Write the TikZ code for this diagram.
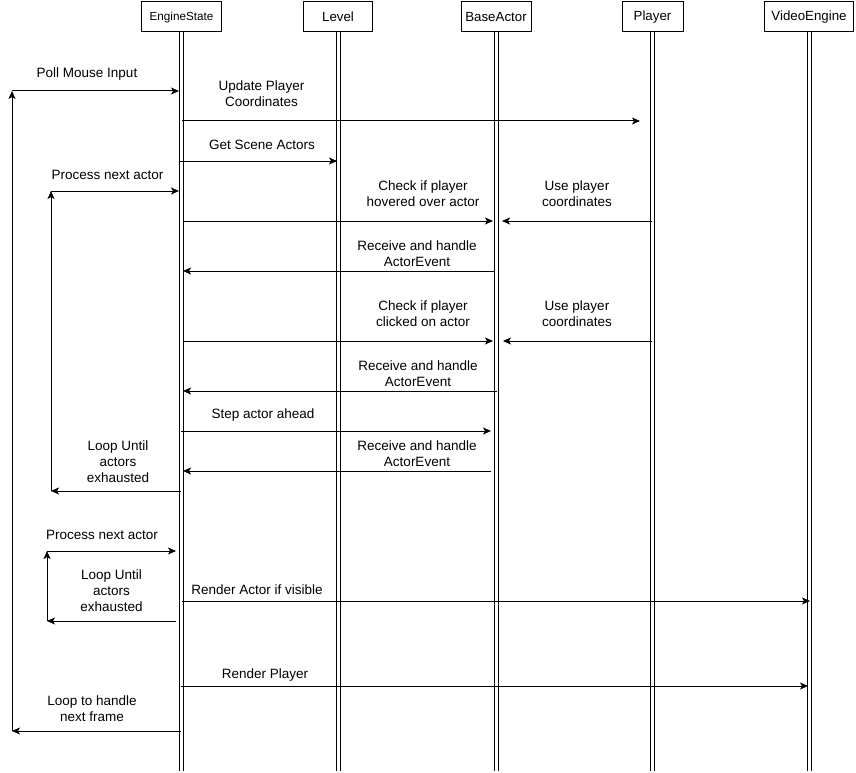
\documentclass[tikz,border=0pt]{standalone}
\usepackage{fontspec}
\setmainfont{Liberation Sans}
\usetikzlibrary{arrows.meta}
\begin{document}
\begin{tikzpicture}[x=1pt,y=-1pt,
  head/.style={draw,line width=1pt,minimum height=30pt,inner sep=0pt,
    font=\fontsize{13.3}{15}\selectfont},
  lifeline/.style={line width=1pt},
  msg/.style={line width=1pt,-{Stealth[length=8pt,width=7pt,inset=2pt]}},
  lbl/.style={align=center,inner sep=0pt,yshift=-1pt,font=\fontsize{13.5}{16}\selectfont}]
\useasboundingbox (0,0) rectangle (856,773);

% participants
\node[head,minimum width=80pt,font=\fontsize{11.7}{14}\selectfont] (es) at (181.5,17) {EngineState};
\node[head,minimum width=69pt] (lv) at (338,17) {Level};
\node[head,minimum width=70pt] (ba) at (496,17) {BaseActor};
\node[head,minimum width=61pt] (pl) at (652.5,17) {Player};
\node[head,minimum width=89pt] (ve) at (809,17) {VideoEngine};

% double lifelines
\foreach \p in {es,lv,ba,pl,ve}{
  \draw[lifeline] ([xshift=-2pt]\p.south) -- ++(0,738);
  \draw[lifeline] ([xshift=2pt]\p.south) -- ++(0,738);
}

% message end points
\coordinate (f0) at (12,91);   \coordinate (f1) at (179,91);
\coordinate (f2) at (12,731);  \coordinate (f3) at (181,731);
\coordinate (u0) at (182,121); \coordinate (u1) at (640,121);
\coordinate (g0) at (179,161); \coordinate (g1) at (337,161);
\coordinate (n0) at (51,191);  \coordinate (n1) at (179,191);
\coordinate (n2) at (51,491);  \coordinate (n3) at (181,491);
\coordinate (h0) at (183,221); \coordinate (h1) at (493,221);
\coordinate (h2) at (652,221); \coordinate (h3) at (502,221);
\coordinate (r0) at (494,271); \coordinate (r1) at (183,271);
\coordinate (c0) at (183,341); \coordinate (c1) at (493,341);
\coordinate (c2) at (652,341); \coordinate (c3) at (503,341);
\coordinate (s0) at (497,391); \coordinate (s1) at (183,391);
\coordinate (t0) at (181,431); \coordinate (t1) at (491,431);
\coordinate (e0) at (491,471); \coordinate (e1) at (183,471);
\coordinate (k0) at (47,551);  \coordinate (k1) at (176,551);
\coordinate (k2) at (47,621);  \coordinate (k3) at (176,621);
\coordinate (v0) at (182,601); \coordinate (v1) at (810,601);
\coordinate (p0) at (181,686); \coordinate (p1) at (808,686);

% frame loop
\draw[msg] (f0) -- (f1);
\draw[msg] (f2) -- (f0);
\draw[msg] (f3) -- (f2);
\node[lbl] (lpoll) at (87,73) {Poll Mouse Input};
\node[lbl] (lnext) at (92,708) {Loop to handle\\next frame};

% player and scene
\draw[msg] (u0) -- (u1);
\node[lbl] (lupd) at (261.5,93) {Update Player\\Coordinates};
\draw[msg] (g0) -- (g1);
\node[lbl] (lget) at (262,144) {Get Scene Actors};

% first actor loop
\draw[msg] (n0) -- (n1);
\draw[msg] (n2) -- (n0);
\draw[msg] (n3) -- (n2);
\node[lbl] (lproc1) at (107.5,174) {Process next actor};
\node[lbl] (lloop1) at (118,461) {Loop Until\\actors\\exhausted};

\draw[msg] (h0) -- (h1);
\node[lbl] (lhov) at (423,193) {Check if player\\hovered over actor};
\draw[msg] (h2) -- (h3);
\node[lbl] (luse1) at (577,193) {Use player\\coordinates};
\draw[msg] (r0) -- (r1);
\node[lbl] (lrec1) at (417,253) {Receive and handle\\ActorEvent};

\draw[msg] (c0) -- (c1);
\node[lbl] (lclk) at (423,313) {Check if player\\clicked on actor};
\draw[msg] (c2) -- (c3);
\node[lbl] (luse2) at (577,313) {Use player\\coordinates};
\draw[msg] (s0) -- (s1);
\node[lbl] (lrec2) at (418,373) {Receive and handle\\ActorEvent};

\draw[msg] (t0) -- (t1);
\node[lbl] (lstep) at (263,414) {Step actor ahead};
\draw[msg] (e0) -- (e1);
\node[lbl] (lrec3) at (417,453) {Receive and handle\\ActorEvent};

% second actor loop
\draw[msg] (k0) -- (k1);
\draw[msg] (k2) -- (k0);
\draw[msg] (k3) -- (k2);
\node[lbl] (lproc2) at (102,534) {Process next actor};
\node[lbl] (lloop2) at (111.5,590) {Loop Until\\actors\\exhausted};

\draw[msg] (v0) -- (v1);
\node[lbl] (lrend) at (257,589) {Render Actor if visible};
\draw[msg] (p0) -- (p1);
\node[lbl] (lplay) at (265,674) {Render Player};
\end{tikzpicture}
\end{document}
